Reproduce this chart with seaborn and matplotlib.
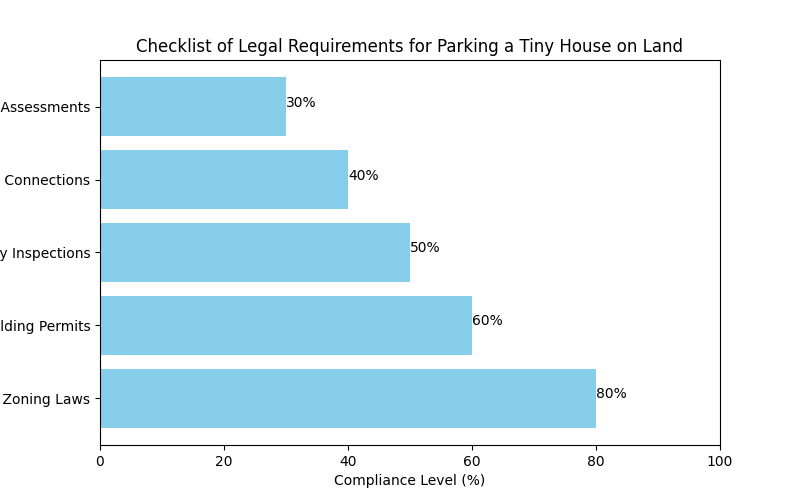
import matplotlib
matplotlib.use("Agg")
import matplotlib.pyplot as plt
import seaborn as sns
import pandas as pd

categories = ["Local Zoning Laws", "Building Permits", "Safety Inspections",
              "Utility Connections", "Environmental Assessments"]
values = [80, 60, 50, 40, 30]

df = pd.DataFrame({"Requirement": categories, "Compliance": values})
order = categories[::-1]

fig, ax = plt.subplots(figsize=(8, 5), dpi=100)
sns.barplot(data=df, x="Compliance", y="Requirement", order=order,
            color="skyblue", saturation=1, width=0.8, orient="h", ax=ax)

for i, cat in enumerate(order):
    v = df.loc[df["Requirement"] == cat, "Compliance"].iloc[0]
    ax.text(v, i, f"{v}%", ha="left", fontsize=10)

ax.set_xlim(0, 100)
ax.set_ylim(4.64, -0.64)
ax.set_xlabel("Compliance Level (%)")
ax.set_ylabel("")
ax.set_title("Checklist of Legal Requirements for Parking a Tiny House on Land")
fig.savefig("out.png", dpi=100)
